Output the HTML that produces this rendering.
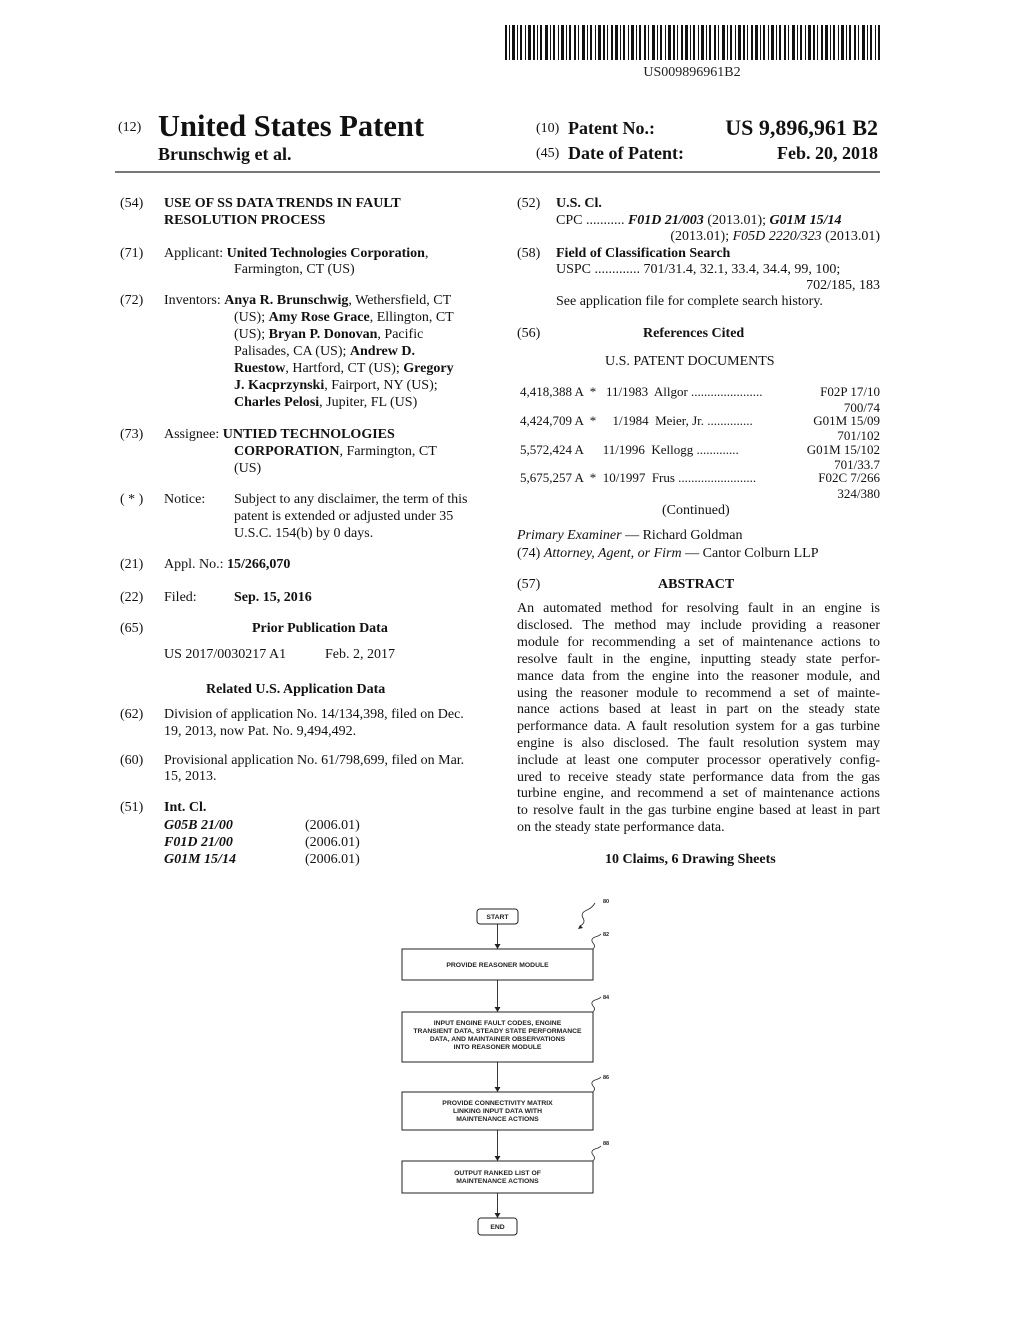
<!DOCTYPE html>
<html><head><meta charset="utf-8">
<style>
html,body{margin:0;padding:0;background:#fff;}
#p{position:relative;width:1017px;height:1325px;overflow:hidden;font-family:"Liberation Serif",serif;color:#111;font-size:14px;}
.t{position:absolute;white-space:nowrap;line-height:16px;}
.b{font-weight:bold;}
.i{font-style:italic;}
.j{position:absolute;width:363px;left:517px;text-align:justify;text-align-last:justify;white-space:nowrap;line-height:16px;}
.r{position:absolute;text-align:right;white-space:nowrap;line-height:16px;}
</style></head><body><div id="p">

<!-- barcode -->
<svg style="position:absolute;left:0;top:0" width="1017" height="80">
<g fill="#111">
<rect x="505" y="25" width="2" height="35"/><rect x="509" y="25" width="1" height="35"/><rect x="512" y="25" width="3" height="35"/><rect x="517" y="25" width="1" height="35"/><rect x="520" y="25" width="2" height="35"/><rect x="525" y="25" width="1" height="35"/><rect x="528" y="25" width="3" height="35"/><rect x="533" y="25" width="2" height="35"/><rect x="537" y="25" width="1" height="35"/><rect x="540" y="25" width="2" height="35"/><rect x="545" y="25" width="3" height="35"/><rect x="550" y="25" width="1" height="35"/><rect x="553" y="25" width="2" height="35"/><rect x="558" y="25" width="1" height="35"/><rect x="561" y="25" width="3" height="35"/><rect x="566" y="25" width="1" height="35"/><rect x="569" y="25" width="2" height="35"/><rect x="574" y="25" width="2" height="35"/><rect x="578" y="25" width="1" height="35"/><rect x="582" y="25" width="3" height="35"/><rect x="587" y="25" width="1" height="35"/><rect x="590" y="25" width="2" height="35"/><rect x="595" y="25" width="1" height="35"/><rect x="598" y="25" width="3" height="35"/><rect x="603" y="25" width="2" height="35"/><rect x="607" y="25" width="1" height="35"/><rect x="611" y="25" width="2" height="35"/><rect x="615" y="25" width="3" height="35"/><rect x="620" y="25" width="1" height="35"/><rect x="623" y="25" width="2" height="35"/><rect x="628" y="25" width="1" height="35"/><rect x="631" y="25" width="3" height="35"/><rect x="636" y="25" width="1" height="35"/><rect x="639" y="25" width="2" height="35"/><rect x="644" y="25" width="2" height="35"/><rect x="648" y="25" width="1" height="35"/><rect x="652" y="25" width="3" height="35"/><rect x="657" y="25" width="1" height="35"/><rect x="660" y="25" width="2" height="35"/><rect x="665" y="25" width="1" height="35"/><rect x="668" y="25" width="3" height="35"/><rect x="673" y="25" width="2" height="35"/><rect x="677" y="25" width="1" height="35"/><rect x="681" y="25" width="2" height="35"/><rect x="685" y="25" width="3" height="35"/><rect x="690" y="25" width="1" height="35"/><rect x="693" y="25" width="2" height="35"/><rect x="698" y="25" width="1" height="35"/><rect x="701" y="25" width="3" height="35"/><rect x="706" y="25" width="1" height="35"/><rect x="709" y="25" width="2" height="35"/><rect x="714" y="25" width="2" height="35"/><rect x="718" y="25" width="1" height="35"/><rect x="722" y="25" width="3" height="35"/><rect x="727" y="25" width="1" height="35"/><rect x="730" y="25" width="2" height="35"/><rect x="735" y="25" width="1" height="35"/><rect x="738" y="25" width="3" height="35"/><rect x="743" y="25" width="2" height="35"/><rect x="747" y="25" width="1" height="35"/><rect x="751" y="25" width="2" height="35"/><rect x="755" y="25" width="3" height="35"/><rect x="760" y="25" width="1" height="35"/><rect x="763" y="25" width="2" height="35"/><rect x="768" y="25" width="1" height="35"/><rect x="771" y="25" width="3" height="35"/><rect x="776" y="25" width="1" height="35"/><rect x="779" y="25" width="2" height="35"/><rect x="784" y="25" width="2" height="35"/><rect x="788" y="25" width="1" height="35"/><rect x="792" y="25" width="3" height="35"/><rect x="797" y="25" width="1" height="35"/><rect x="800" y="25" width="2" height="35"/><rect x="805" y="25" width="1" height="35"/><rect x="808" y="25" width="3" height="35"/><rect x="813" y="25" width="2" height="35"/><rect x="817" y="25" width="1" height="35"/><rect x="821" y="25" width="2" height="35"/><rect x="825" y="25" width="3" height="35"/><rect x="830" y="25" width="1" height="35"/><rect x="833" y="25" width="2" height="35"/><rect x="838" y="25" width="1" height="35"/><rect x="841" y="25" width="3" height="35"/><rect x="846" y="25" width="1" height="35"/><rect x="849" y="25" width="2" height="35"/><rect x="854" y="25" width="2" height="35"/><rect x="858" y="25" width="1" height="35"/><rect x="862" y="25" width="3" height="35"/><rect x="867" y="25" width="1" height="35"/><rect x="870" y="25" width="2" height="35"/><rect x="875" y="25" width="1" height="35"/><rect x="878" y="25" width="2" height="35"/>
</g>
<text x="692" y="76" font-family="Liberation Serif" font-size="14" text-anchor="middle" fill="#222">US009896961B2</text>
</svg>

<!-- header -->
<div class="t" style="left:118px;top:120px;font-size:14px;">(12)</div>
<div class="t b" style="left:158px;top:109px;font-size:30.5px;line-height:34px;">United States Patent</div>
<div class="t b" style="left:158px;top:144px;font-size:18px;line-height:20px;">Brunschwig et al.</div>
<div class="t" style="left:536px;top:121px;">(10)</div>
<div class="t b" style="left:568px;top:118px;font-size:18px;line-height:20px;">Patent No.:</div>
<div class="r b" style="right:139px;top:115px;font-size:22px;line-height:26px;">US 9,896,961 B2</div>
<div class="t" style="left:536px;top:146px;">(45)</div>
<div class="t b" style="left:568px;top:143px;font-size:18px;line-height:20px;">Date of Patent:</div>
<div class="r b" style="right:139px;top:143px;font-size:18px;line-height:20px;">Feb. 20, 2018</div>
<div style="position:absolute;left:115px;top:171px;width:765px;height:2px;background:#777;"></div>

<!-- left column -->
<div class="t" style="left:120px;top:196px;">(54)</div>
<div class="t b" style="left:164px;top:196px;">USE OF SS DATA TRENDS IN FAULT</div>
<div class="t b" style="left:164px;top:213px;">RESOLUTION PROCESS</div>

<div class="t" style="left:120px;top:246px;">(71)</div>
<div class="t" style="left:164px;top:246px;">Applicant: <b>United Technologies Corporation</b>,</div>
<div class="t" style="left:234px;top:262px;">Farmington, CT (US)</div>

<div class="t" style="left:120px;top:293px;">(72)</div>
<div class="t" style="left:164px;top:293px;">Inventors: <b>Anya R. Brunschwig</b>, Wethersfield, CT</div>
<div class="t" style="left:234px;top:310px;">(US); <b>Amy Rose Grace</b>, Ellington, CT</div>
<div class="t" style="left:234px;top:327px;">(US); <b>Bryan P. Donovan</b>, Pacific</div>
<div class="t" style="left:234px;top:344px;">Palisades, CA (US); <b>Andrew D.</b></div>
<div class="t" style="left:234px;top:361px;"><b>Ruestow</b>, Hartford, CT (US); <b>Gregory</b></div>
<div class="t" style="left:234px;top:378px;"><b>J. Kacprzynski</b>, Fairport, NY (US);</div>
<div class="t" style="left:234px;top:395px;"><b>Charles Pelosi</b>, Jupiter, FL (US)</div>

<div class="t" style="left:120px;top:427px;">(73)</div>
<div class="t" style="left:164px;top:427px;">Assignee: <b>UNTIED TECHNOLOGIES</b></div>
<div class="t" style="left:234px;top:444px;"><b>CORPORATION</b>, Farmington, CT</div>
<div class="t" style="left:234px;top:461px;">(US)</div>

<div class="t" style="left:120px;top:492px;">( * )</div>
<div class="t" style="left:164px;top:492px;">Notice:</div>
<div class="t" style="left:234px;top:492px;">Subject to any disclaimer, the term of this</div>
<div class="t" style="left:234px;top:509px;">patent is extended or adjusted under 35</div>
<div class="t" style="left:234px;top:526px;">U.S.C. 154(b) by 0 days.</div>

<div class="t" style="left:120px;top:557px;">(21)</div>
<div class="t" style="left:164px;top:557px;">Appl. No.: <b>15/266,070</b></div>
<div class="t" style="left:120px;top:590px;">(22)</div>
<div class="t" style="left:164px;top:590px;">Filed:</div>
<div class="t b" style="left:234px;top:590px;">Sep. 15, 2016</div>

<div class="t" style="left:120px;top:621px;">(65)</div>
<div class="t b" style="left:252px;top:621px;">Prior Publication Data</div>
<div class="t" style="left:164px;top:647px;">US 2017/0030217 A1</div>
<div class="t" style="left:325px;top:647px;">Feb. 2, 2017</div>

<div class="t b" style="left:206px;top:682px;">Related U.S. Application Data</div>
<div class="t" style="left:120px;top:707px;">(62)</div>
<div class="t" style="left:164px;top:707px;">Division of application No. 14/134,398, filed on Dec.</div>
<div class="t" style="left:164px;top:724px;">19, 2013, now Pat. No. 9,494,492.</div>
<div class="t" style="left:120px;top:753px;">(60)</div>
<div class="t" style="left:164px;top:753px;">Provisional application No. 61/798,699, filed on Mar.</div>
<div class="t" style="left:164px;top:769px;">15, 2013.</div>

<div class="t" style="left:120px;top:800px;">(51)</div>
<div class="t b" style="left:164px;top:800px;">Int. Cl.</div>
<div class="t b i" style="left:164px;top:818px;">G05B 21/00</div><div class="t" style="left:305px;top:818px;">(2006.01)</div>
<div class="t b i" style="left:164px;top:835px;">F01D 21/00</div><div class="t" style="left:305px;top:835px;">(2006.01)</div>
<div class="t b i" style="left:164px;top:852px;">G01M 15/14</div><div class="t" style="left:305px;top:852px;">(2006.01)</div>

<!-- right column -->
<div class="t" style="left:517px;top:196px;">(52)</div>
<div class="t b" style="left:556px;top:196px;">U.S. Cl.</div>
<div class="t" style="left:556px;top:213px;">CPC ........... <b><i>F01D 21/003</i></b> (2013.01); <b><i>G01M 15/14</i></b></div>
<div class="r" style="right:137px;top:229px;">(2013.01); <i>F05D 2220/323</i> (2013.01)</div>
<div class="t" style="left:517px;top:246px;">(58)</div>
<div class="t b" style="left:556px;top:246px;">Field of Classification Search</div>
<div class="t" style="left:556px;top:262px;">USPC ............. 701/31.4, 32.1, 33.4, 34.4, 99, 100;</div>
<div class="r" style="right:137px;top:278px;">702/185, 183</div>
<div class="t" style="left:556px;top:294px;">See application file for complete search history.</div>

<div class="t" style="left:517px;top:326px;">(56)</div>
<div class="t b" style="left:643px;top:326px;">References Cited</div>
<div class="t" style="left:605px;top:354px;">U.S. PATENT DOCUMENTS</div>

<div class="t" style="left:520px;top:384px;font-size:13px;">4,418,388 A &nbsp;*&nbsp;&nbsp; 11/1983&nbsp; Allgor ......................</div>
<div class="r" style="right:137px;top:384px;font-size:13px;">F02P 17/10</div>
<div class="r" style="right:137px;top:400px;font-size:13px;">700/74</div>
<div class="t" style="left:520px;top:413px;font-size:13px;">4,424,709 A &nbsp;*&nbsp;&nbsp;&nbsp;&nbsp; 1/1984&nbsp; Meier, Jr. ..............</div>
<div class="r" style="right:137px;top:413px;font-size:13px;">G01M 15/09</div>
<div class="r" style="right:137px;top:428px;font-size:13px;">701/102</div>
<div class="t" style="left:520px;top:442px;font-size:13px;">5,572,424 A &nbsp;&nbsp;&nbsp;&nbsp; 11/1996&nbsp; Kellogg .............</div>
<div class="r" style="right:137px;top:442px;font-size:13px;">G01M 15/102</div>
<div class="r" style="right:137px;top:457px;font-size:13px;">701/33.7</div>
<div class="t" style="left:520px;top:470px;font-size:13px;">5,675,257 A &nbsp;*&nbsp; 10/1997&nbsp; Frus ........................</div>
<div class="r" style="right:137px;top:470px;font-size:13px;">F02C 7/266</div>
<div class="r" style="right:137px;top:486px;font-size:13px;">324/380</div>

<div class="t" style="left:662px;top:503px;">(Continued)</div>
<div class="t" style="left:517px;top:528px;"><i>Primary Examiner</i> — Richard Goldman</div>
<div class="t" style="left:517px;top:546px;">(74) <i>Attorney, Agent, or Firm</i> — Cantor Colburn LLP</div>

<div class="t" style="left:517px;top:577px;">(57)</div>
<div class="t b" style="left:658px;top:577px;">ABSTRACT</div>
<div class="j" style="top:601px;">An automated method for resolving fault in an engine is</div>
<div class="j" style="top:618px;">disclosed. The method may include providing a reasoner</div>
<div class="j" style="top:635px;">module for recommending a set of maintenance actions to</div>
<div class="j" style="top:652px;">resolve fault in the engine, inputting steady state perfor-</div>
<div class="j" style="top:669px;">mance data from the engine into the reasoner module, and</div>
<div class="j" style="top:686px;">using the reasoner module to recommend a set of mainte-</div>
<div class="j" style="top:702px;">nance actions based at least in part on the steady state</div>
<div class="j" style="top:719px;">performance data. A fault resolution system for a gas turbine</div>
<div class="j" style="top:736px;">engine is also disclosed. The fault resolution system may</div>
<div class="j" style="top:753px;">include at least one computer processor operatively config-</div>
<div class="j" style="top:770px;">ured to receive steady state performance data from the gas</div>
<div class="j" style="top:786px;">turbine engine, and recommend a set of maintenance actions</div>
<div class="j" style="top:803px;">to resolve fault in the gas turbine engine based at least in part</div>
<div class="t" style="left:517px;top:820px;">on the steady state performance data.</div>

<div class="t b" style="left:605px;top:852px;">10 Claims, 6 Drawing Sheets</div>

<!-- flowchart -->
<svg style="position:absolute;left:0;top:0" width="1017" height="1325" font-family="Liberation Sans" font-size="6.8" font-weight="bold" fill="none" stroke="#222">
<rect x="477" y="909" width="41" height="15" rx="3" stroke-width="1"/>
<text x="497.5" y="919" text-anchor="middle" fill="#222" stroke="none">START</text>
<rect x="402" y="949" width="191" height="31" stroke-width="1"/>
<text x="497.5" y="967" text-anchor="middle" fill="#222" stroke="none">PROVIDE REASONER MODULE</text>
<rect x="402" y="1012" width="191" height="50" stroke-width="1"/>
<text text-anchor="middle" fill="#222" stroke="none"><tspan x="497.5" y="1025">INPUT ENGINE FAULT CODES, ENGINE</tspan><tspan x="497.5" y="1033">TRANSIENT DATA, STEADY STATE PERFORMANCE</tspan><tspan x="497.5" y="1041">DATA, AND MAINTAINER OBSERVATIONS</tspan><tspan x="497.5" y="1049">INTO REASONER MODULE</tspan></text>
<rect x="402" y="1092" width="191" height="38" stroke-width="1"/>
<text text-anchor="middle" fill="#222" stroke="none"><tspan x="497.5" y="1105">PROVIDE CONNECTIVITY MATRIX</tspan><tspan x="497.5" y="1113">LINKING INPUT DATA WITH</tspan><tspan x="497.5" y="1121">MAINTENANCE ACTIONS</tspan></text>
<rect x="402" y="1161" width="191" height="32" stroke-width="1"/>
<text text-anchor="middle" fill="#222" stroke="none"><tspan x="497.5" y="1175">OUTPUT RANKED LIST OF</tspan><tspan x="497.5" y="1183">MAINTENANCE ACTIONS</tspan></text>
<rect x="478" y="1218" width="39" height="17" rx="3" stroke-width="1"/>
<text x="497.5" y="1229" text-anchor="middle" fill="#222" stroke="none">END</text>
<g stroke-width="0.9">
<line x1="497.5" y1="924" x2="497.5" y2="945"/><line x1="497.5" y1="980" x2="497.5" y2="1008"/>
<line x1="497.5" y1="1062" x2="497.5" y2="1088"/><line x1="497.5" y1="1130" x2="497.5" y2="1157"/>
<line x1="497.5" y1="1193" x2="497.5" y2="1214"/>
</g>
<g fill="#222" stroke="none">
<path d="M494.5 944 L500.5 944 L497.5 949Z"/><path d="M494.5 1007 L500.5 1007 L497.5 1012Z"/>
<path d="M494.5 1087 L500.5 1087 L497.5 1092Z"/><path d="M494.5 1156 L500.5 1156 L497.5 1161Z"/>
<path d="M494.5 1213 L500.5 1213 L497.5 1218Z"/>
</g>
<g stroke-width="0.8">
<path d="M593 949 q3 -3 0 -6 q-3 -4 2 -6 q4 -1 6 -3"/>
<path d="M593 1012 q3 -3 0 -6 q-3 -4 2 -6 q4 -1 6 -3"/>
<path d="M593 1092 q3 -3 0 -6 q-3 -4 2 -6 q4 -1 6 -3"/>
<path d="M593 1161 q3 -3 0 -6 q-3 -4 2 -6 q4 -1 6 -3"/>
<path d="M580 926 q6 -3 3 -8 q-3 -5 4 -8 q5 -2 8 -7"/>
</g>
<path d="M578 929 l5 -1 l-3 -3z" fill="#222" stroke="none"/>
<g fill="#222" stroke="none" font-size="5.5">
<text x="603" y="903">80</text><text x="603" y="936">82</text><text x="603" y="999">84</text>
<text x="603" y="1079">86</text><text x="603" y="1145">88</text>
</g>
</svg>

</div></body></html>
